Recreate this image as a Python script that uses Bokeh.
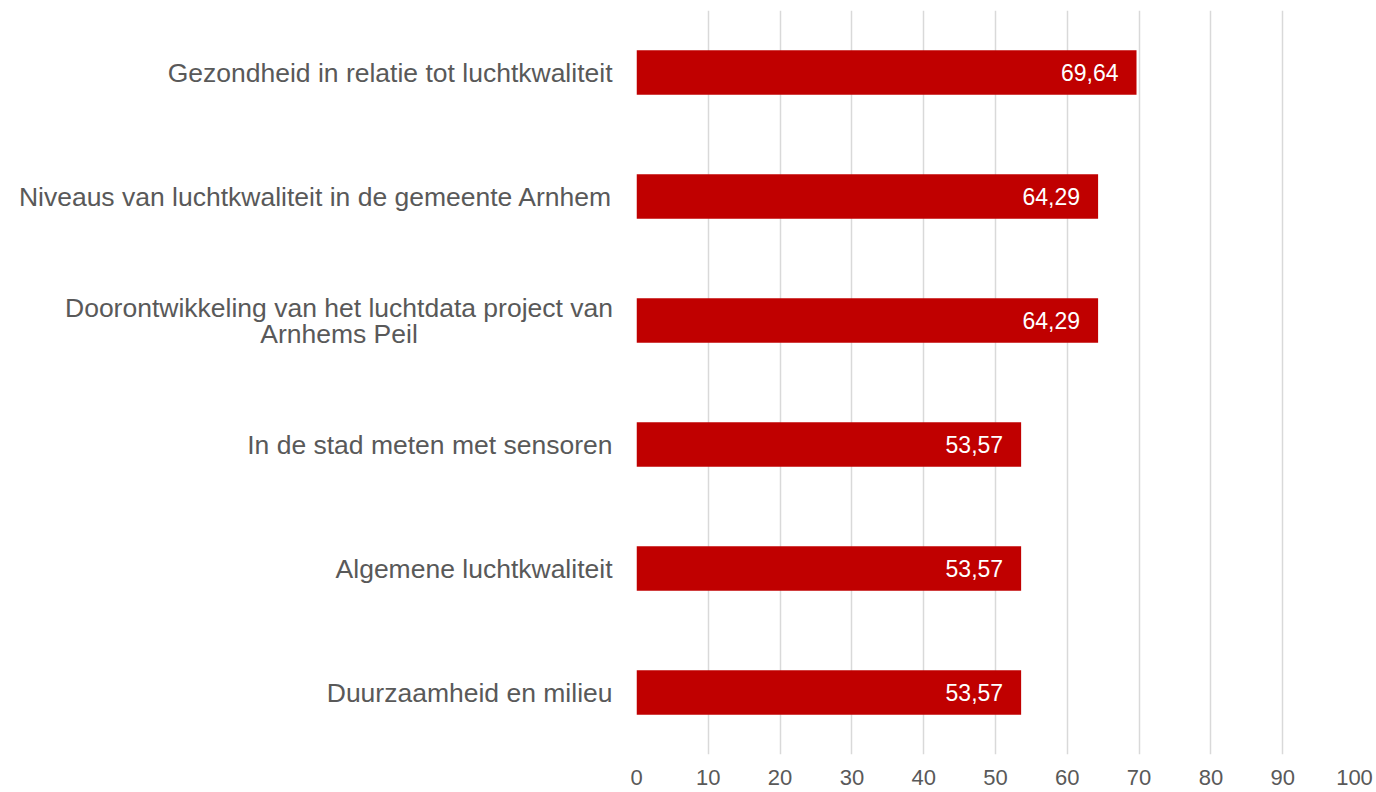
from bokeh.plotting import figure
from bokeh.layouts import row
from bokeh.models import ColumnDataSource, FactorRange, Range1d, FixedTicker, LabelSet
from bokeh.core.properties import value
from bokeh.embed import file_html
from bokeh.resources import INLINE

categories = [
    "Gezondheid in relatie tot luchtkwaliteit",
    "Niveaus van luchtkwaliteit in de gemeente Arnhem",
    "Doorontwikkeling van het luchtdata project van\nArnhems Peil",
    "In de stad meten met sensoren",
    "Algemene luchtkwaliteit",
    "Duurzaamheid en milieu",
]
values = [69.64, 64.29, 64.29, 53.57, 53.57, 53.57]
x_ticks = [0, 10, 20, 30, 40, 50, 60, 70, 80, 90, 100]

labels = [f"{v:.2f}".replace(".", ",") for v in values]
src = ColumnDataSource(dict(cat=categories, val=values, lab=labels))

FONT = "Liberation Sans"
GREY = "#595959"
CAT_SIZE = "26.5px"
STANDOFF = 24          # gap between label right edge and the bars' baseline
LINE_GAP = 26          # px between the lines of a wrapped label
FIRST_LINE_W = 547     # estimated rendered width of the widest line (px)
LEFT_W = 620           # width of the label panel
INNER = 16             # left border of the chart panel (room for the "0" tick label)
TOP, BOTTOM = 10, 38

yr = FactorRange(*reversed(categories), range_padding=0)

# ---- left panel: category labels ----
rows = dict(cat=[], txt=[], xo=[], yo=[], al=[])
for c in categories:
    lines = c.split("\n")
    n = len(lines)
    for k, line in enumerate(lines):
        rows["cat"].append(c)
        rows["txt"].append(line)
        if n == 1:
            rows["xo"].append(-(STANDOFF - INNER))
            rows["al"].append("right")
        else:
            rows["xo"].append(-(STANDOFF - INNER) - FIRST_LINE_W / 2)
            rows["al"].append("center")
        rows["yo"].append((k - (n - 1) / 2) * LINE_GAP)
lab_src = ColumnDataSource(rows)

left = figure(width=LEFT_W, height=792, y_range=yr, x_range=Range1d(-LEFT_W, 0),
              output_backend="svg", toolbar_location=None,
              x_axis_location=None, y_axis_location=None,
              min_border_left=0, min_border_right=0, min_border_top=TOP, min_border_bottom=BOTTOM)
left.outline_line_color = None
left.grid.visible = False
left.text(x=0, y="cat", text="txt", x_offset="xo", y_offset="yo", text_align="al",
          text_baseline="middle", text_font=value(FONT), text_font_size=CAT_SIZE,
          text_color=GREY, source=lab_src)

# ---- main chart ----
p = figure(
    width=1376 - LEFT_W, height=792,
    y_range=yr, x_range=Range1d(0, 100),
    output_backend="svg", toolbar_location=None,
    min_border_left=INNER, min_border_right=22, min_border_top=TOP, min_border_bottom=BOTTOM,
)
p.outline_line_color = None
p.background_fill_color = "white"
p.border_fill_color = "white"

p.hbar(y="cat", right="val", left=0, height=0.36, source=src,
       fill_color="#C00000", line_color=None)

p.add_layout(LabelSet(x="val", y="cat", text="lab", source=src,
                      x_offset=-18, text_align="right", text_baseline="middle",
                      text_color="white", text_font=value(FONT), text_font_size="23px"))

p.xaxis.ticker = FixedTicker(ticks=x_ticks)
p.xaxis.axis_line_color = None
p.xaxis.major_tick_line_color = None
p.xaxis.minor_tick_line_color = None
p.xaxis.major_tick_out = 0
p.xaxis.major_tick_in = 0
p.xaxis.major_label_standoff = 15
p.xaxis.major_label_text_font = FONT
p.xaxis.major_label_text_font_size = "22px"
p.xaxis.major_label_text_color = GREY

p.yaxis.visible = False

p.xgrid.grid_line_color = "#D9D9D9"
p.xgrid.grid_line_width = 1.5
p.ygrid.grid_line_color = None

layout = row(left, p)
open("out.html", "w").write(file_html(layout, INLINE))
